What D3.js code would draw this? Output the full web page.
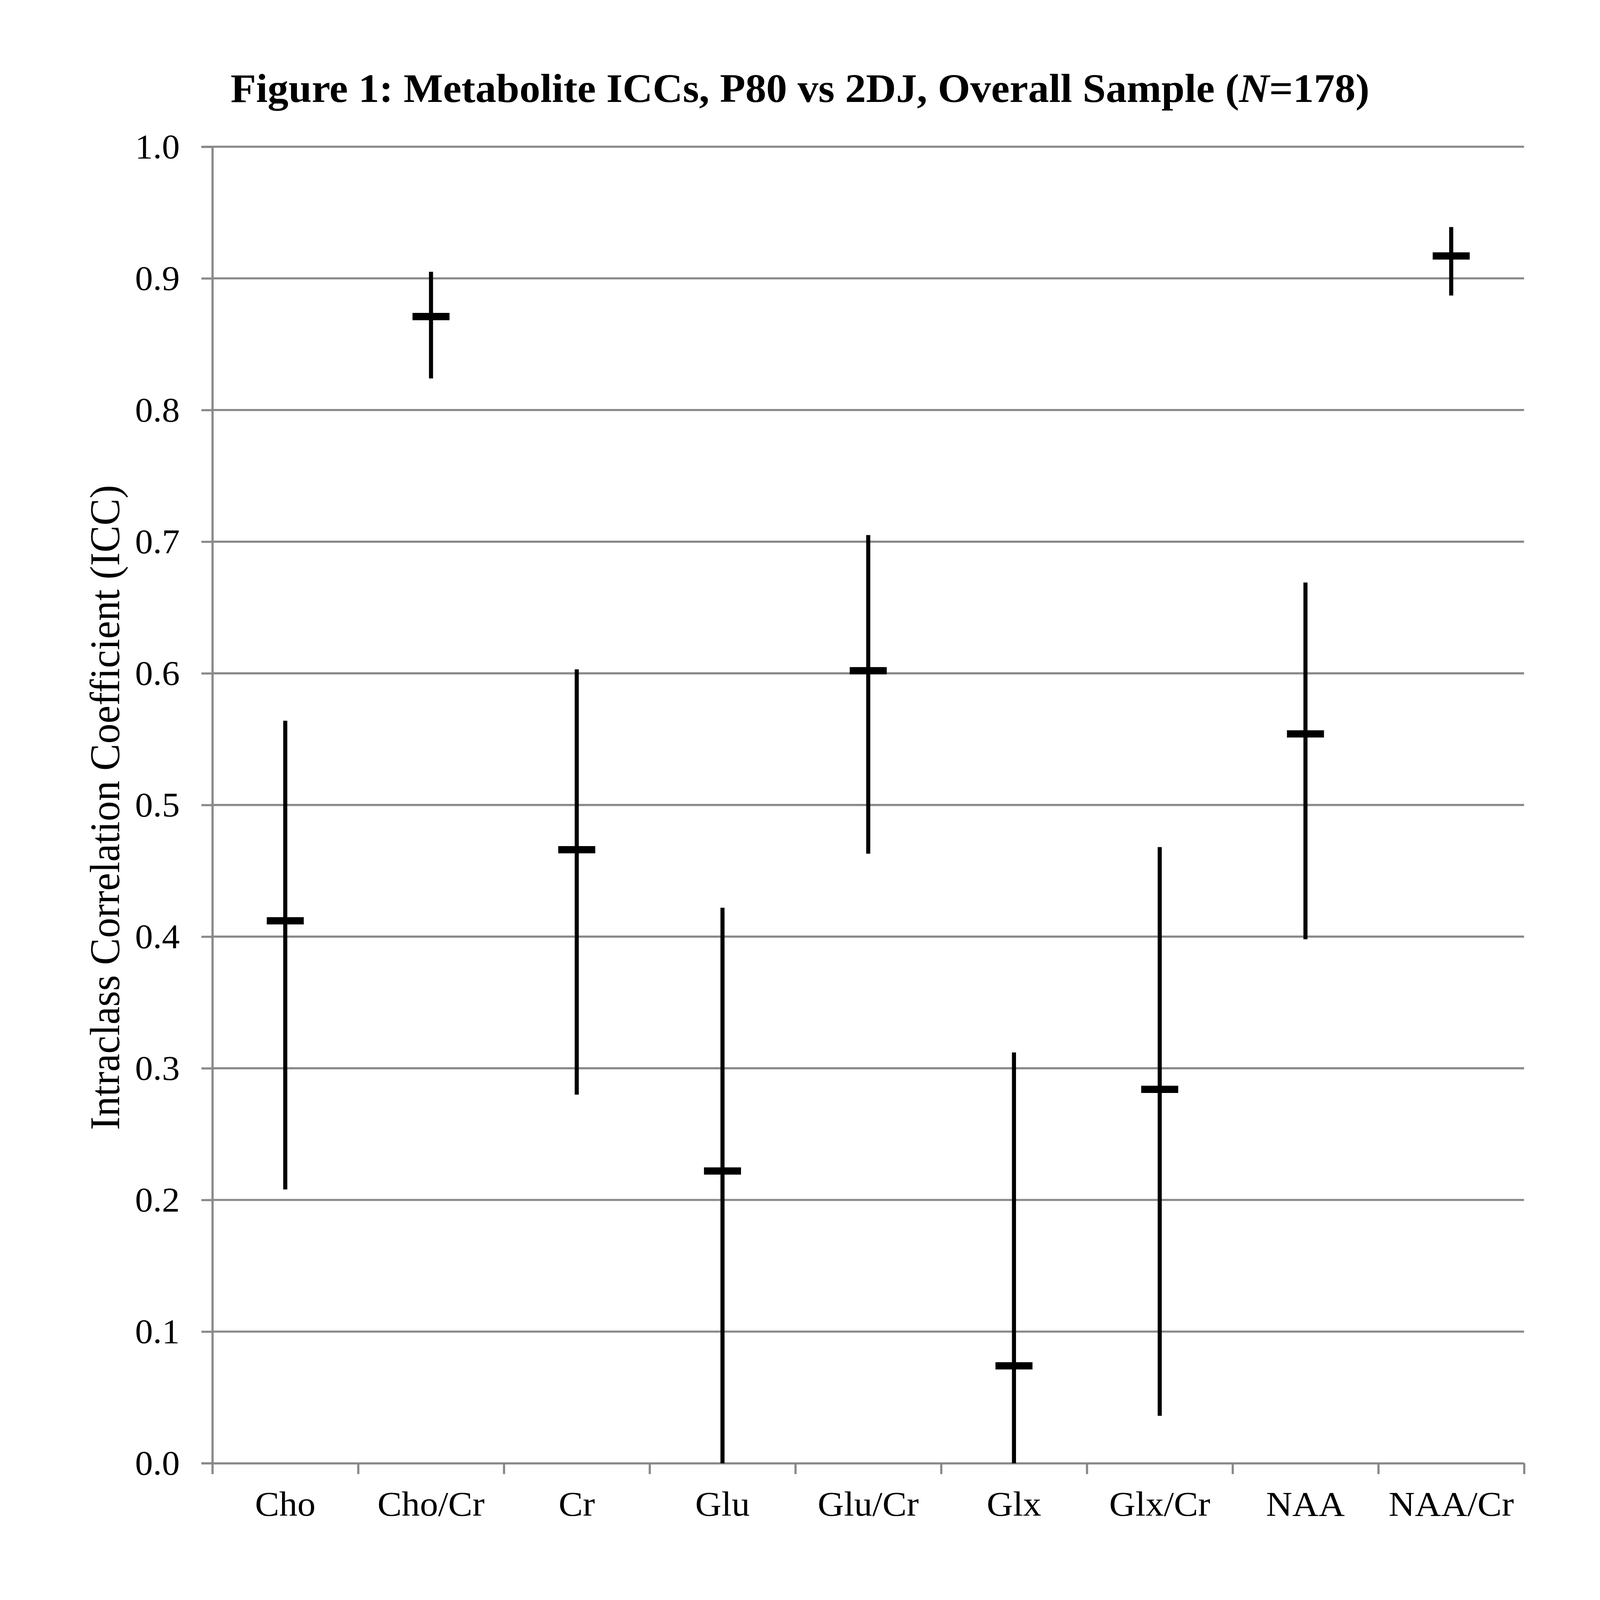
<!DOCTYPE html>
<html>
<head>
<meta charset="utf-8">
<script src="https://cdn.jsdelivr.net/npm/d3@7"></script>
<style>
  html, body { margin: 0; padding: 0; background: #fff; overflow: hidden; }
  #chart { display: block; width: 100vw; height: 100vh; }
  text { font-family: "Liberation Serif", "Times New Roman", serif; }
</style>
</head>
<body>
<svg id="chart"></svg>
<script>
const metabolites = ["Cho", "Cho/Cr", "Cr", "Glu", "Glu/Cr", "Glx", "Glx/Cr", "NAA", "NAA/Cr"];
const icc   = [0.412, 0.871, 0.466, 0.222, 0.602, 0.074, 0.284, 0.554, 0.917];
const upper = [0.564, 0.905, 0.603, 0.422, 0.705, 0.312, 0.468, 0.669, 0.939];
const lower = [0.208, 0.824, 0.280, 0.000, 0.463, 0.000, 0.036, 0.398, 0.887];
const yTicks = [0, 0.1, 0.2, 0.3, 0.4, 0.5, 0.6, 0.7, 0.8, 0.9, 1.0];

const data = metabolites.map((m, i) => ({ name: m, icc: icc[i], hi: upper[i], lo: lower[i] }));

const W = 5100, H = 5300;
const plot = { left: 677, right: 4858, top: 486, bottom: 4847 };
const gridColor = "#898989";

// viewBox so the whole chart fits whatever the viewport really is
const svg = d3.select("#chart")
  .attr("viewBox", `0 0 ${W} ${H}`)
  .attr("preserveAspectRatio", "none");

svg.append("rect").attr("width", W).attr("height", H).attr("fill", "#fff");

const x = d3.scaleBand()
  .domain(metabolites)
  .range([plot.left, plot.right])
  .padding(0);

const y = d3.scaleLinear()
  .domain([0, 1])
  .range([plot.bottom, plot.top]);

// gridlines
svg.append("g")
  .selectAll("line")
  .data(yTicks.filter(d => d > 0))
  .join("line")
  .attr("x1", plot.left)
  .attr("x2", plot.right)
  .attr("y1", d => y(d))
  .attr("y2", d => y(d))
  .attr("stroke", gridColor)
  .attr("stroke-width", 7);

// y axis
const yAxis = svg.append("g")
  .attr("transform", `translate(${plot.left},0)`)
  .call(d3.axisLeft(y).tickValues(yTicks).tickFormat(d3.format(".1f")).tickSize(35).tickPadding(0));
yAxis.select(".domain").attr("stroke", gridColor).attr("stroke-width", 7);
yAxis.selectAll(".tick line").attr("stroke", gridColor).attr("stroke-width", 7);
yAxis.selectAll(".tick text")
  .attr("x", -104)
  .attr("dy", "0.33em")
  .attr("fill", "#000")
  .style("font-size", "114px")
  .style("font-family", "'Liberation Serif', serif");

// x axis: boundary ticks
const xb = d3.scaleLinear().domain([0, metabolites.length]).range([plot.left, plot.right]);
const xTickAxis = svg.append("g")
  .attr("transform", `translate(0,${plot.bottom})`)
  .call(d3.axisBottom(xb).ticks(metabolites.length).tickFormat("").tickSize(36).tickSizeOuter(0));
xTickAxis.select(".domain").attr("stroke", gridColor).attr("stroke-width", 7);
xTickAxis.selectAll(".tick line").attr("stroke", gridColor).attr("stroke-width", 7);

// x axis: category labels
const xLab = svg.append("g")
  .attr("transform", `translate(0,${plot.bottom})`)
  .call(d3.axisBottom(x).tickSize(0));
xLab.select(".domain").remove();
xLab.selectAll(".tick text")
  .attr("y", 174)
  .attr("dy", 0)
  .attr("fill", "#000")
  .style("font-size", "116px")
  .style("font-family", "'Liberation Serif', serif");

// error bars
const marks = svg.append("g");
marks.selectAll("line.ci")
  .data(data)
  .join("line")
  .attr("class", "ci")
  .attr("x1", d => x(d.name) + x.bandwidth() / 2)
  .attr("x2", d => x(d.name) + x.bandwidth() / 2)
  .attr("y1", d => y(d.hi))
  .attr("y2", d => y(d.lo))
  .attr("stroke", "#000")
  .attr("stroke-width", 13);

marks.selectAll("line.mean")
  .data(data)
  .join("line")
  .attr("class", "mean")
  .attr("x1", d => x(d.name) + x.bandwidth() / 2 - 59)
  .attr("x2", d => x(d.name) + x.bandwidth() / 2 + 59)
  .attr("y1", d => y(d.icc))
  .attr("y2", d => y(d.icc))
  .attr("stroke", "#000")
  .attr("stroke-width", 24);

// title
const title = svg.append("text")
  .attr("x", W / 2)
  .attr("y", 338)
  .attr("text-anchor", "middle")
  .style("font-size", "133px")
  .style("font-weight", "bold");
title.append("tspan").text("Figure 1: Metabolite ICCs, P80 vs 2DJ, Overall Sample (");
title.append("tspan").style("font-style", "italic").text("N");
title.append("tspan").text("=178)");

// y label
svg.append("text")
  .attr("transform", `translate(380,2675) rotate(-90)`)
  .attr("text-anchor", "middle")
  .style("font-size", "134px")
  .text("Intraclass Correlation Coefficient (ICC)");
</script>
</body>
</html>
